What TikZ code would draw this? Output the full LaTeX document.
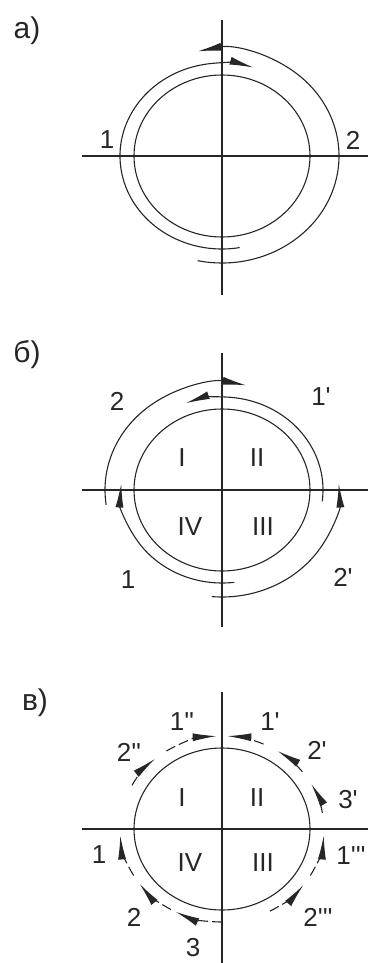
\documentclass[tikz,border=0pt]{standalone}
\usepackage{fontspec}
\setmainfont{Liberation Sans}[Ligatures=TeXOff]
\usetikzlibrary{arrows.meta}
\begin{document}
\begin{tikzpicture}[x=1pt,y=1pt,
  ln/.style={line width=1.1pt, black!85},
  ax/.style={line width=1.3pt, black!85},
  arr/.style={ln,-{Latex[length=24pt,width=8pt]}},
  darr/.style={arr,dash pattern=on 10pt off 4pt},
  lbl/.style={font=\fontsize{26}{26}\selectfont, inner sep=0pt, text=black!85},
  plbl/.style={font=\fontsize{30}{30}\selectfont, inner sep=0pt, text=black!85}]
\useasboundingbox (0,0) rectangle (368,-963);
% ---------------- a)
\coordinate (ca) at (222,-156);
\draw[ax] (82,-156) -- (368,-156);
\draw[ax] (222,-20) -- (222,-295);
\draw[ln] (ca) ellipse[x radius=88pt, y radius=81pt];
\draw[arr] (ca) ++(280:102pt and 93pt) arc[start angle=280,end angle=72,x radius=102pt,y radius=93pt];
\draw[arr] (ca) ++(258:117pt and 107pt) arc[start angle=258,end angle=462,x radius=117pt,y radius=107pt];
\node[plbl] (la) at (27,-31) {а)};
\node[lbl] (a1) at (107,-140) {1};
\node[lbl] (a2) at (353,-140) {2};
% ---------------- b)
\coordinate (cb) at (222,-490);
\draw[ax] (82,-490) -- (368,-490);
\draw[ax] (222,-353) -- (222,-627);
\draw[ln] (cb) ellipse[x radius=88pt, y radius=81pt];
\draw[arr] (cb) ++(188:117pt and 107pt) arc[start angle=188,end angle=78,x radius=117pt,y radius=107pt];
\draw[arr] (cb) ++(-7:101pt and 93pt) arc[start angle=-7,end angle=111,x radius=101pt,y radius=93pt];
\draw[arr] (cb) ++(277:101pt and 93pt) arc[start angle=277,end angle=176,x radius=101pt,y radius=93pt];
\draw[arr] (cb) ++(265:117pt and 107pt) arc[start angle=265,end angle=363.5,x radius=117pt,y radius=107pt];
\node[plbl] (lb) at (27,-355) {б)};
\node[lbl] (b2) at (117,-401) {2};
\node[lbl] (b1p) at (321,-397) {1'};
\node[lbl] (b1) at (128,-580) {1};
\node[lbl] (b2p) at (343,-577) {2'};
\node[lbl] (bI) at (182,-458) {I};
\node[lbl] (bII) at (257,-458) {II};
\node[lbl] (bIV) at (190,-527) {IV};
\node[lbl] (bIII) at (263,-527) {III};
% ---------------- c)
\coordinate (cc) at (222,-829);
\draw[ax] (82,-829) -- (368,-829);
\draw[ax] (222,-692) -- (222,-963);
\draw[ln] (cc) ellipse[x radius=88pt, y radius=81pt];
\foreach \s/\e in {152/131, 123/93, 66/87, 38/57, 10/29, -30/-4, -62/-37, 270/243, 240/216, 210/184}{
  \draw[darr] (cc) ++(\s:102pt and 93pt) arc[start angle=\s,end angle=\e,x radius=102pt,y radius=93pt];
}
\node[plbl] (lc) at (35,-703) {в)};
\node[lbl] (c1pp) at (182,-722) {1''};
\node[lbl] (c1p) at (270,-722) {1'};
\node[lbl] (c2pp) at (129,-752) {2''};
\node[lbl] (c2p) at (317,-750) {2'};
\node[lbl] (c3p) at (348,-800) {3'};
\node[lbl] (c1) at (99,-855) {1};
\node[lbl] (c1ppp) at (351,-856) {1'''};
\node[lbl] (c2) at (134,-917) {2};
\node[lbl] (c2ppp) at (318,-917) {2'''};
\node[lbl] (c3) at (193,-948) {3};
\node[lbl] (cI) at (182,-798) {I};
\node[lbl] (cII) at (257,-798) {II};
\node[lbl] (cIV) at (190,-863) {IV};
\node[lbl] (cIII) at (263,-863) {III};
\end{tikzpicture}
\end{document}
